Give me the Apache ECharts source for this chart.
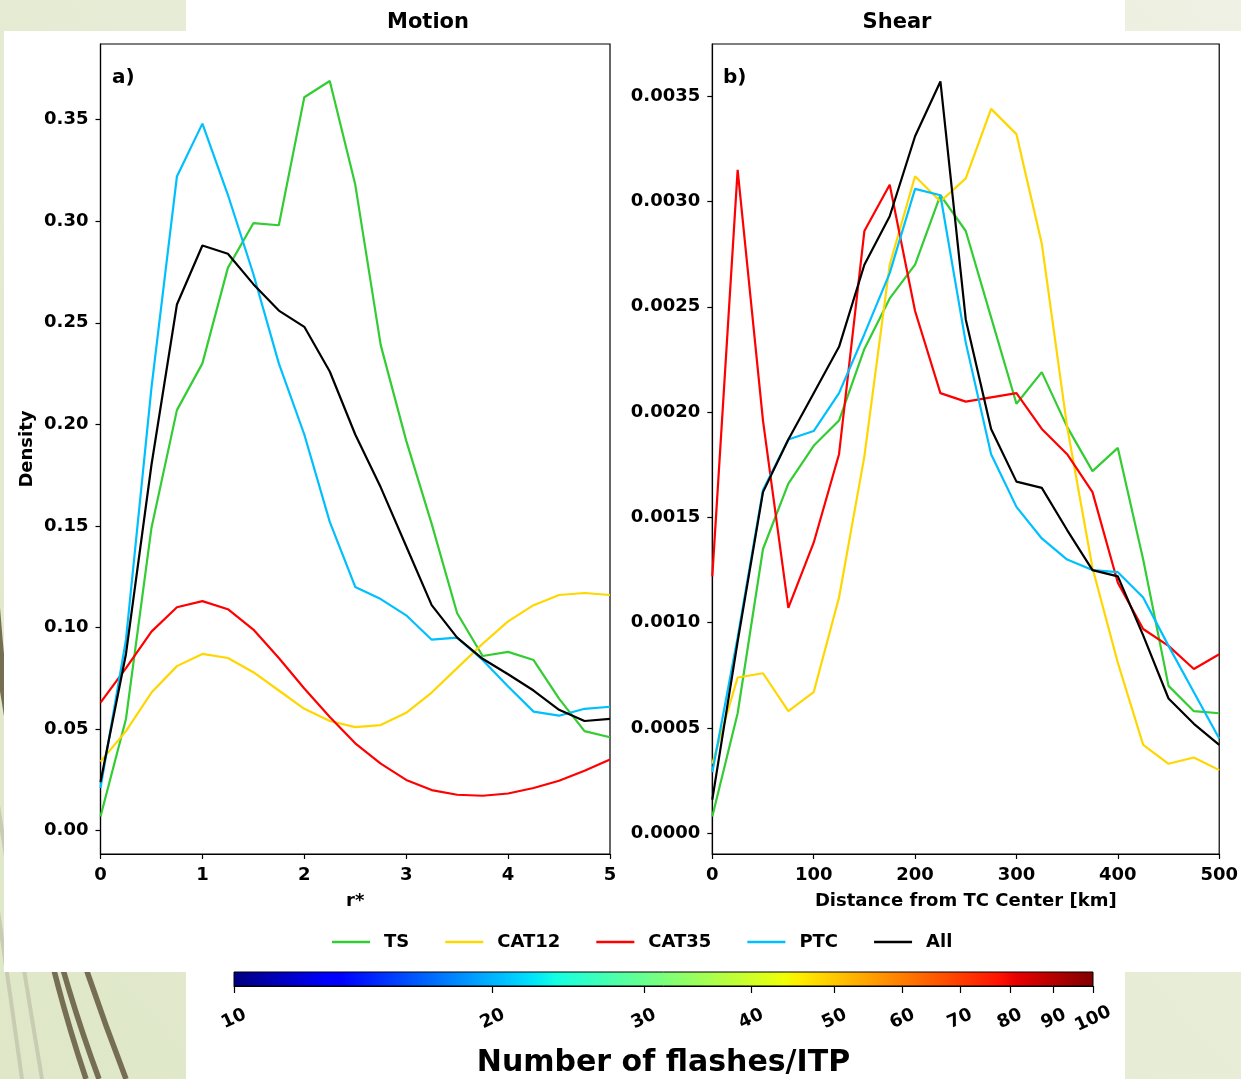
<!DOCTYPE html>
<html>
<head>
<meta charset="utf-8">
<script src="https://cdn.jsdelivr.net/npm/echarts@6/dist/echarts.min.js"></script>
<style>
html,body{margin:0;padding:0;background:#fff;}
#chart{width:1241px;height:1079px;}
</style>
</head>
<body>
<div id="chart"></div>
<script>
// ---------- data ----------
const rStar = [0, 0.25, 0.5, 0.75, 1, 1.25, 1.5, 1.75, 2, 2.25, 2.5, 2.75, 3, 3.25, 3.5, 3.75, 4, 4.25, 4.5, 4.75, 5];
const distKm = [0, 25, 50, 75, 100, 125, 150, 175, 200, 225, 250, 275, 300, 325, 350, 375, 400, 425, 450, 475, 500];

const motionTS    = [0.007, 0.055, 0.149, 0.207, 0.230, 0.277, 0.299, 0.298, 0.361, 0.369, 0.318, 0.239, 0.192, 0.151, 0.107, 0.086, 0.088, 0.084, 0.065, 0.049, 0.046];
const motionCAT12 = [0.034, 0.049, 0.068, 0.081, 0.087, 0.085, 0.078, 0.069, 0.060, 0.054, 0.051, 0.052, 0.058, 0.068, 0.080, 0.092, 0.103, 0.111, 0.116, 0.117, 0.116];
const motionCAT35 = [0.063, 0.080, 0.098, 0.110, 0.113, 0.109, 0.099, 0.085, 0.070, 0.056, 0.043, 0.033, 0.025, 0.020, 0.0177, 0.0172, 0.0183, 0.021, 0.0246, 0.0295, 0.035];
const motionPTC   = [0.021, 0.094, 0.218, 0.322, 0.348, 0.313, 0.274, 0.230, 0.195, 0.152, 0.120, 0.114, 0.106, 0.094, 0.095, 0.084, 0.071, 0.0586, 0.0566, 0.060, 0.061];
const motionAll   = [0.024, 0.087, 0.180, 0.259, 0.288, 0.284, 0.269, 0.256, 0.248, 0.226, 0.195, 0.169, 0.140, 0.111, 0.095, 0.0846, 0.077, 0.069, 0.0595, 0.054, 0.055];

const shearTS    = [0.00008, 0.00057, 0.00135, 0.00166, 0.00184, 0.00196, 0.00230, 0.00254, 0.00270, 0.00303, 0.00286, 0.00245, 0.00204, 0.00219, 0.00193, 0.00172, 0.00183, 0.00130, 0.00070, 0.00058, 0.00057];
const shearCAT12 = [0.00033, 0.00074, 0.00076, 0.00058, 0.00067, 0.00112, 0.00179, 0.00270, 0.00312, 0.00300, 0.00311, 0.00344, 0.00332, 0.00280, 0.00193, 0.00126, 0.00081, 0.00042, 0.00033, 0.00036, 0.00030];
const shearCAT35 = [0.00122, 0.00315, 0.00196, 0.00107, 0.00138, 0.00180, 0.00286, 0.00308, 0.00248, 0.00209, 0.00205, 0.00207, 0.00209, 0.00192, 0.00180, 0.00162, 0.00119, 0.00097, 0.00089, 0.00078, 0.00085];
const shearPTC   = [0.00029, 0.00093, 0.00163, 0.00187, 0.00191, 0.00209, 0.00237, 0.00266, 0.00306, 0.00303, 0.00233, 0.00180, 0.00155, 0.00140, 0.00130, 0.00125, 0.00124, 0.00112, 0.00089, 0.00067, 0.00045];
const shearAll   = [0.00016, 0.00091, 0.00162, 0.00187, 0.00209, 0.00231, 0.00270, 0.00293, 0.00331, 0.00357, 0.00244, 0.00192, 0.00167, 0.00164, 0.00144, 0.00125, 0.00122, 0.00094, 0.00064, 0.00052, 0.00042];

const groupNames = ['TS', 'CAT12', 'CAT35', 'PTC', 'All'];
const motionTicks = [0, 0.05, 0.10, 0.15, 0.20, 0.25, 0.30, 0.35];
const shearTicks = [0, 0.0005, 0.0010, 0.0015, 0.0020, 0.0025, 0.0030, 0.0035];
const flashTicks = [10, 20, 30, 40, 50, 60, 70, 80, 90, 100];

// ---------- styling ----------
const FONT = '"DejaVu Sans", Verdana, sans-serif';
const groupColors = { TS: '#33cc33', CAT12: '#ffd700', CAT35: '#ff0000', PTC: '#00bfff', All: '#000000' };
const motionSets = { TS: motionTS, CAT12: motionCAT12, CAT35: motionCAT35, PTC: motionPTC, All: motionAll };
const shearSets = { TS: shearTS, CAT12: shearCAT12, CAT35: shearCAT35, PTC: shearPTC, All: shearAll };

function pairs(xs, ys) { return xs.map((x, i) => [x, ys[i]]); }

const series = [];
groupNames.forEach(n => {
  series.push({ name: n, type: 'line', xAxisIndex: 0, yAxisIndex: 0, data: pairs(rStar, motionSets[n]),
    symbol: 'none', showSymbol: false, lineStyle: { width: 2.2, color: groupColors[n] }, itemStyle: { color: groupColors[n] } });
});
groupNames.forEach(n => {
  series.push({ name: n, type: 'line', xAxisIndex: 1, yAxisIndex: 1, data: pairs(distKm, shearSets[n]),
    symbol: 'none', showSymbol: false, lineStyle: { width: 2.2, color: groupColors[n] }, itemStyle: { color: groupColors[n] } });
});

const tickLabel = { color: '#000', fontFamily: FONT, fontWeight: 'bold', fontSize: 18 };
const axisTick = { show: true, inside: false, length: 5, lineStyle: { color: '#000', width: 1.2 } };
const axisLine = { show: true, onZero: false, lineStyle: { color: '#000', width: 1.2 } };

const jet = {
  type: 'linear', x: 0, y: 0, x2: 1, y2: 0,
  colorStops: [
    { offset: 0.00, color: 'rgb(0,0,128)' },
    { offset: 0.11, color: 'rgb(0,0,255)' },
    { offset: 0.125, color: 'rgb(0,0,255)' },
    { offset: 0.34, color: 'rgb(0,219,255)' },
    { offset: 0.35, color: 'rgb(0,230,247)' },
    { offset: 0.375, color: 'rgb(21,255,226)' },
    { offset: 0.64, color: 'rgb(238,255,8)' },
    { offset: 0.65, color: 'rgb(247,245,0)' },
    { offset: 0.66, color: 'rgb(255,236,0)' },
    { offset: 0.89, color: 'rgb(255,19,0)' },
    { offset: 0.91, color: 'rgb(232,0,0)' },
    { offset: 1.00, color: 'rgb(128,0,0)' }
  ]
};

const darkCurve = { stroke: '#766e53', lineWidth: 5.5, fill: null };
const paleCurve = { stroke: '#c8ccb2', lineWidth: 4, fill: null };

const option = {
  animation: false,
  backgroundColor: '#ffffff',
  graphic: {
    elements: [
      { type: 'rect', z: -100, shape: { x: 0, y: 0, width: 1241, height: 1079 },
        style: { fill: { type: 'linear', x: 0, y: 1, x2: 1, y2: 0, colorStops: [
          { offset: 0, color: '#dfe7c8' }, { offset: 1, color: '#eef1e3' } ] } } },
      { type: 'bezierCurve', z: -90, shape: { x1: -25, y1: 760, cpx1: 0, cpy1: 920, x2: 22, y2: 1079 }, style: paleCurve },
      { type: 'bezierCurve', z: -90, shape: { x1: -18, y1: 700, cpx1: 12, cpy1: 900, x2: 42, y2: 1079 }, style: paleCurve },
      { type: 'bezierCurve', z: -89, shape: { x1: -6, y1: 560, cpx1: 12, cpy1: 860, x2: 86, y2: 1079 }, style: darkCurve },
      { type: 'bezierCurve', z: -89, shape: { x1: -10, y1: 600, cpx1: 25, cpy1: 880, x2: 99, y2: 1079 }, style: darkCurve },
      { type: 'bezierCurve', z: -89, shape: { x1: -4, y1: 640, cpx1: 42, cpy1: 860, x2: 126, y2: 1079 }, style: darkCurve },
      { type: 'rect', z: -80, shape: { x: 186, y: 0, width: 939, height: 1079 }, style: { fill: '#ffffff' } },
      { type: 'rect', z: -80, shape: { x: 4, y: 31, width: 1237, height: 941 }, style: { fill: '#ffffff' } },
      { type: 'text', x: 112, y: 78, style: { text: 'a)', fill: '#000', font: 'bold 20px ' + FONT, verticalAlign: 'middle', align: 'left' } },
      { type: 'text', x: 723, y: 78, style: { text: 'b)', fill: '#000', font: 'bold 20px ' + FONT, verticalAlign: 'middle', align: 'left' } }
    ]
  },
  title: [
    { text: 'Motion', left: 428, top: 12, textAlign: 'center', padding: 0,
      textStyle: { fontFamily: FONT, fontWeight: 'bold', fontSize: 21, color: '#000' } },
    { text: 'Shear', left: 897, top: 12, textAlign: 'center', padding: 0,
      textStyle: { fontFamily: FONT, fontWeight: 'bold', fontSize: 21, color: '#000' } }
  ],
  legend: {
    data: groupNames, left: 332, top: 933, orient: 'horizontal', padding: 0,
    icon: 'rect', itemWidth: 38, itemHeight: 2.5, itemGap: 36,
    textStyle: { fontFamily: FONT, fontWeight: 'bold', fontSize: 18, color: '#000', padding: [0, 0, 0, 9] }
  },
  grid: [
    { left: 100.5, top: 44, width: 509.5, height: 810, show: true, borderColor: '#000', borderWidth: 1.2, backgroundColor: 'transparent' },
    { left: 712.3, top: 44, width: 509.4, height: 810, show: true, borderColor: '#000', borderWidth: 1.2, backgroundColor: 'transparent' },
    { left: 234, top: 972, width: 859, height: 16, show: true, borderColor: '#000', borderWidth: 1, backgroundColor: jet }
  ],
  xAxis: [
    { type: 'value', gridIndex: 0, min: 0, max: 5, interval: 1,
      name: 'r*', nameLocation: 'middle', nameGap: 38,
      nameTextStyle: { fontFamily: FONT, fontWeight: 'bold', fontSize: 18, color: '#000' },
      axisLine: axisLine, axisTick: axisTick, splitLine: { show: false },
      axisLabel: Object.assign({ margin: 12, formatter: v => String(v) }, tickLabel) },
    { type: 'value', gridIndex: 1, min: 0, max: 500, interval: 100,
      name: 'Distance from TC Center [km]', nameLocation: 'middle', nameGap: 38,
      nameTextStyle: { fontFamily: FONT, fontWeight: 'bold', fontSize: 18, color: '#000' },
      axisLine: axisLine, axisTick: axisTick, splitLine: { show: false },
      axisLabel: Object.assign({ margin: 12, formatter: v => String(v) }, tickLabel) },
    { type: 'log', logBase: 10, gridIndex: 2, min: 10, max: 100, position: 'bottom',
      name: 'Number of flashes/ITP', nameLocation: 'middle', nameGap: 62,
      nameTextStyle: { fontFamily: FONT, fontWeight: 'bold', fontSize: 30, color: '#000' },
      axisLine: { show: true, onZero: false, lineStyle: { color: '#000', width: 1 } },
      splitLine: { show: false }, minorTick: { show: false },
      axisTick: { show: true, length: 7, customValues: flashTicks, lineStyle: { color: '#000', width: 1.2 } },
      axisLabel: Object.assign({ customValues: flashTicks, rotate: 25, margin: 33, align: 'center', verticalAlign: 'middle',
        formatter: v => String(Math.round(v)) }, tickLabel) }
  ],
  yAxis: [
    { type: 'value', gridIndex: 0, min: -0.01147, max: 0.3872,
      name: 'Density', nameLocation: 'middle', nameGap: 64,
      nameTextStyle: { fontFamily: FONT, fontWeight: 'bold', fontSize: 18, color: '#000' },
      axisLine: axisLine, splitLine: { show: false },
      axisTick: Object.assign({ customValues: motionTicks }, axisTick),
      axisLabel: Object.assign({ customValues: motionTicks, margin: 12, formatter: v => v.toFixed(2) }, tickLabel) },
    { type: 'value', gridIndex: 1, min: -0.0000983, max: 0.003748,
      axisLine: axisLine, splitLine: { show: false },
      axisTick: Object.assign({ customValues: shearTicks }, axisTick),
      axisLabel: Object.assign({ customValues: shearTicks, margin: 12, formatter: v => v.toFixed(4) }, tickLabel) },
    { type: 'value', gridIndex: 2, min: 0, max: 1, show: false }
  ],
  series: series
};

const chart = echarts.init(document.getElementById('chart'), null, { renderer: 'canvas' });
chart.setOption(option);
</script>
</body>
</html>
